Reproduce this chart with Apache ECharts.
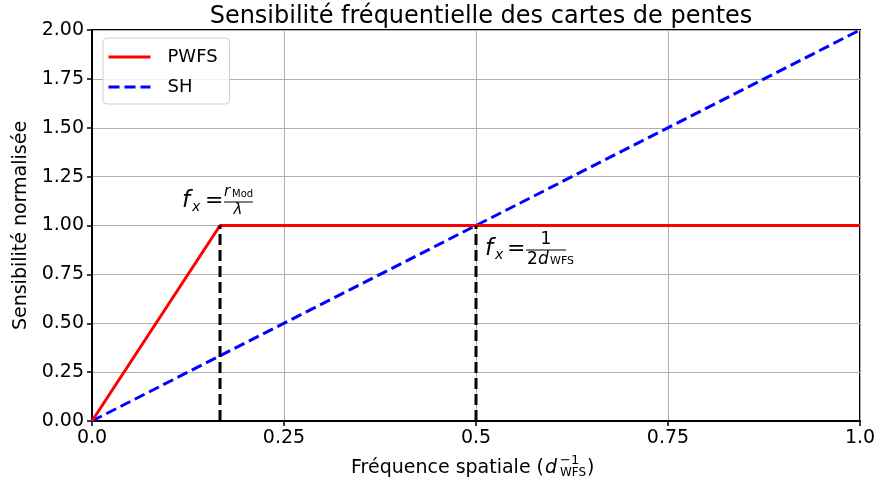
<!DOCTYPE html>
<html><head><meta charset="utf-8">
<script src="https://cdn.jsdelivr.net/npm/echarts@6/dist/echarts.min.js"></script>
<style>html,body{margin:0;padding:0;background:#fff}#c{width:879px;height:487px}</style>
</head><body><div id="c"></div>
<script>
const titleText = 'Sensibilité fréquentielle des cartes de pentes';
const yAxisName = 'Sensibilité normalisée';
const xTickValues = [0, 0.25, 0.5, 0.75, 1.0];
const xTickLabels = ['0.0', '0.25', '0.5', '0.75', '1.0'];
const yTickLabels = ['0.00','0.25','0.50','0.75','1.00','1.25','1.50','1.75','2.00'];
const pwfsX = [0, 0.1667, 1.0];
const pwfsY = [0, 1.0, 1.0];
const shX = [0, 1.0];
const shY = [0, 2.0];
const cutoff1X = [0.1667, 0.1667];
const cutoff1Y = [0, 1.0];
const cutoff2X = [0.5, 0.5];
const cutoff2Y = [0, 1.0];
const annot1 = [0.1667, 1.0];
const annot2 = [0.5, 1.0];

const FONT = 'DejaVu Sans';
const zip = (a, b) => a.map((v, i) => [v, b[i]]);
const chart = echarts.init(document.getElementById('c'), null, {renderer: 'canvas'});

const gridLeft = 92, gridRight = 19;
const option = {
  animation: false,
  backgroundColor: '#fff',
  title: {
    text: titleText, left: gridLeft + (879 - gridLeft - gridRight) / 2, textAlign: 'center', top: 0,
    textStyle: {fontFamily: FONT, fontSize: 24, fontWeight: 'normal', color: '#000'}
  },
  legend: {
    orient: 'vertical', left: 103, top: 38,
    data: ['PWFS', 'SH'],
    itemWidth: 42, itemHeight: 14, itemGap: 12,
    padding: [10, 12, 8, 4],
    borderColor: '#d0d0d0', borderWidth: 1, borderRadius: 4,
    backgroundColor: 'rgba(255,255,255,0.8)',
    itemStyle: {opacity: 0},
    lineStyle: {width: 3},
    textStyle: {fontFamily: FONT, fontSize: 18, color: '#000', padding: [0, 0, 0, 12]}
  },
  grid: {left: gridLeft, right: gridRight, top: 30, bottom: 66, show: true, borderColor: '#000', borderWidth: 2, backgroundColor: 'transparent'},
  xAxis: {
    type: 'value', min: 0, max: 1, interval: 0.25,
    axisLine: {show: true, lineStyle: {color: '#000', width: 2}},
    axisTick: {show: true, inside: false, length: 5, lineStyle: {color: '#000', width: 1.5}},
    axisLabel: {
      fontFamily: FONT, fontSize: 19, color: '#000', margin: 8,
      formatter: v => { const i = xTickValues.findIndex(t => Math.abs(t - v) < 1e-9); return i >= 0 ? xTickLabels[i] : ''; }
    },
    splitLine: {show: true, lineStyle: {color: '#b0b0b0', width: 1}}
  },
  yAxis: {
    type: 'value', min: 0, max: 2, interval: 0.25,
    name: yAxisName, nameLocation: 'middle', nameGap: 60, nameRotate: 90,
    nameTextStyle: {fontFamily: FONT, fontSize: 19, color: '#000'},
    axisLine: {show: true, lineStyle: {color: '#000', width: 2}},
    axisTick: {show: true, inside: false, length: 5, lineStyle: {color: '#000', width: 1.5}},
    axisLabel: {
      fontFamily: FONT, fontSize: 19, color: '#000', margin: 8,
      formatter: v => yTickLabels[Math.round(v / 0.25)]
    },
    splitLine: {show: true, lineStyle: {color: '#b0b0b0', width: 1}}
  },
  series: [
    {name: 'SH', type: 'line', data: zip(shX, shY), showSymbol: false, symbol: 'none', clip: false,
     lineStyle: {color: '#0000ff', width: 3, type: [11, 5]}, itemStyle: {color: '#0000ff'}, z: 3},
    {name: 'PWFS', type: 'line', data: zip(pwfsX, pwfsY), showSymbol: false, symbol: 'none', clip: false,
     lineStyle: {color: '#ff0000', width: 3}, itemStyle: {color: '#ff0000'}, z: 4},
    {name: 'cut1', type: 'line', data: zip(cutoff1X, cutoff1Y), showSymbol: false, symbol: 'none', clip: false,
     lineStyle: {color: '#000', width: 3, type: [11, 5]}, z: 5},
    {name: 'cut2', type: 'line', data: zip(cutoff2X, cutoff2Y), showSymbol: false, symbol: 'none', clip: false,
     lineStyle: {color: '#000', width: 3, type: [11, 5]}, z: 5}
  ]
};
chart.setOption(option);

function txt(x, y, s, size, opts) {
  return {type: 'text', x: x, y: y, z: 100, style: Object.assign({
    text: s, fontFamily: FONT, fontSize: size, fill: '#000', textAlign: 'left', textVerticalAlign: 'middle'
  }, opts || {})};
}
function line(x1, y1, x2, y2) {
  return {type: 'line', z: 100, shape: {x1: x1, y1: y1, x2: x2, y2: y2}, style: {stroke: '#000', lineWidth: 1}};
}
const it = {fontStyle: 'italic'};

const p1 = chart.convertToPixel({gridIndex: 0}, annot1);
const p2 = chart.convertToPixel({gridIndex: 0}, annot2);
const gr = chart.getModel().getComponent('grid').coordinateSystem.getRect();

const a1x = p1[0], a1y = p1[1] - 24;
const a2x = p2[0], a2y = p2[1] + 24;
const g = [
  // annotation 1: f_x = r_Mod / lambda
  txt(a1x - 38, a1y, 'f', 23, it),
  txt(a1x - 28, a1y + 6, 'x', 14, it),
  txt(a1x - 15, a1y, '=', 22),
  line(a1x + 4, a1y + 0.5, a1x + 33, a1y + 0.5),
  txt(a1x + 4, a1y - 9, 'r', 15, it),
  txt(a1x + 12, a1y - 7, 'Mod', 10),
  txt(a1x + 18, a1y + 9, 'λ', 15, Object.assign({textAlign: 'center'}, it)),
  // annotation 2: f_x = 1 / (2 d_WFS)
  txt(a2x + 9, a2y, 'f', 23, it),
  txt(a2x + 19, a2y + 6, 'x', 14, it),
  txt(a2x + 31, a2y, '=', 22),
  line(a2x + 50, a2y + 0.5, a2x + 90, a2y + 0.5),
  txt(a2x + 70, a2y - 10, '1', 17, {textAlign: 'center'}),
  txt(a2x + 51, a2y + 10, '2', 17),
  txt(a2x + 62, a2y + 10, 'd', 17, it),
  txt(a2x + 74, a2y + 12, 'WFS', 11),
];
// x-axis label with math
const xlY = gr.y + gr.height + 47;
const cx = gr.x + gr.width / 2;
g.push(txt(cx - 125, xlY, 'Fréquence spatiale (', 19));
g.push(txt(cx + 69, xlY, 'd', 19, it));
g.push(txt(cx + 84, xlY - 7, '−1', 13));
g.push(txt(cx + 84, xlY + 5, 'WFS', 12));
g.push(txt(cx + 111, xlY, ')', 19));
chart.setOption({graphic: g});
</script></body></html>
